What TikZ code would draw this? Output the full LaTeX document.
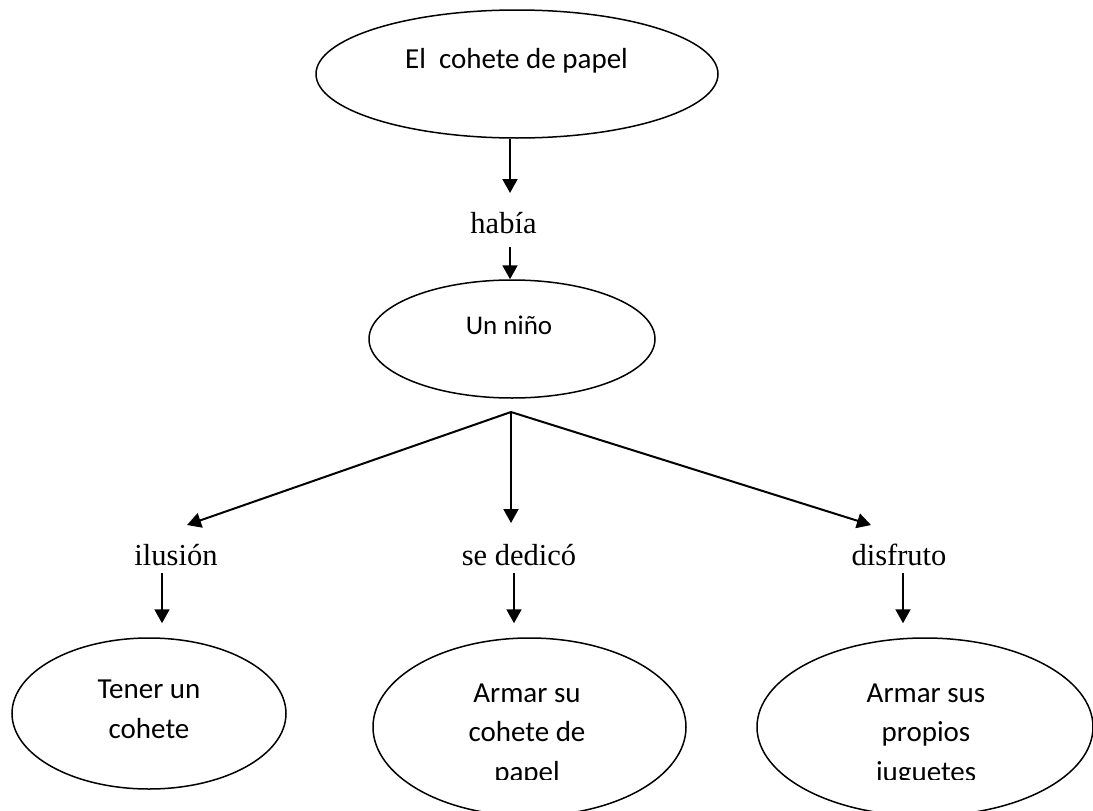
\documentclass[tikz,border=0pt]{standalone}
\usepackage{fontspec}
\setmainfont{Liberation Serif}
\newfontfamily\calib{Carlito}
\usetikzlibrary{arrows.meta,shapes.geometric}
\begin{document}
\begin{tikzpicture}[x=1pt,y=-1pt,
  oval/.style={draw=black,line width=1.5pt,ellipse,inner sep=0pt},
  intext/.style={inner sep=0pt,anchor=base,align=center,
    font=\calib\fontsize{29}{39.5}\selectfont},
  link/.style={inner sep=0pt,anchor=base,font=\fontsize{30.5}{36}\selectfont},
  arr/.style={line width=2pt,-{Triangle[length=14pt,width=15pt]}}]
\clip (0,0) rectangle (1093,811);
\fill[white] (0,0) rectangle (1093,811);

% ellipses
\node[oval,minimum width=402pt,minimum height=128pt] (e0) at (517,74) {};
\node[oval,minimum width=286pt,minimum height=118pt] (e1) at (512,339) {};
\node[oval,minimum width=274pt,minimum height=151pt] (e2) at (149,713.5) {};
\node[oval,minimum width=313pt,minimum height=178pt] (e3) at (529.5,727) {};
\node[oval,minimum width=336pt,minimum height=178pt] (e4) at (925,727) {};

% texts inside the ellipses (base anchor = baseline of the last line)
\node[intext] (t0) at (516.5,68) {El\ \ cohete de papel};
\node[intext,font=\calib\fontsize{27}{33}\selectfont] (t1) at (509,334) {Un niño};
\node[intext] (t2) at (149,738) {Tener un\\cohete};
\begin{scope}
  \clip (0,0) rectangle (1093,779);
  \node[intext] (t3) at (527,781) {Armar su\\cohete de\\papel};
  \node[intext] (t4) at (926,781) {Armar sus\\propios\\juguetes};
\end{scope}

% linking words
\node[link] (hab) at (503.5,233) {había};
\node[link] (l1) at (176,565) {ilusión};
\node[link] (l2) at (519,565) {se dedicó};
\node[link] (l3) at (899,565) {disfruto};

\coordinate (b) at (511,412);

% connectors
\draw[arr] ([xshift=-7pt]e0.south) -- ([xshift=6.5pt,yshift=40pt]hab.base);
\draw[arr] ([xshift=6.5pt,yshift=-14pt]hab.base) -- ([xshift=-2pt]e1.north);
\draw[arr] (b) -- ([xshift=11pt,yshift=40pt]l1.base);
\draw[arr] (b) -- ([xshift=-8pt,yshift=42pt]l2.base);
\draw[arr] (b) -- ([xshift=-28pt,yshift=40pt]l3.base);
\draw[arr] ([xshift=-14pt,yshift=-8pt]l1.base) -- ([xshift=13pt,yshift=14pt]e2.north);
\draw[arr] ([xshift=-5pt,yshift=-8pt]l2.base) -- ([xshift=-15.5pt,yshift=14pt]e3.north);
\draw[arr] ([xshift=4pt,yshift=-8pt]l3.base) -- ([xshift=-22pt,yshift=14pt]e4.north);
\end{tikzpicture}
\end{document}
